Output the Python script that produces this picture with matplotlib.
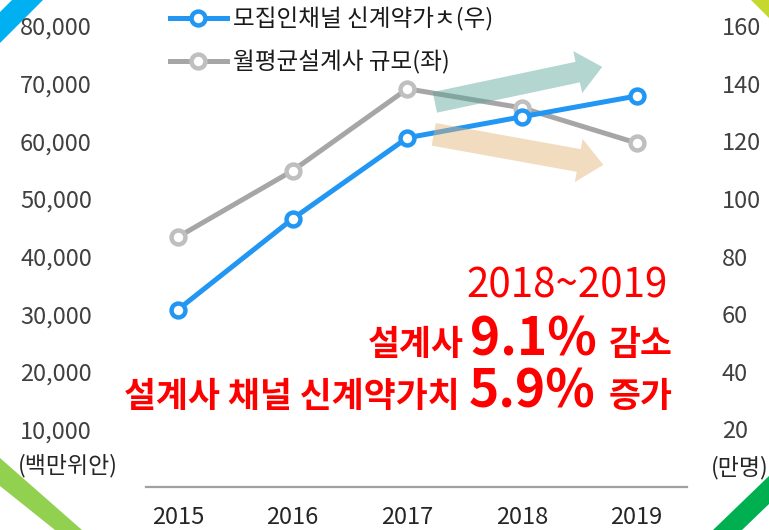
import numpy as np
import matplotlib
matplotlib.use("Agg")
from matplotlib import pyplot as plt
from matplotlib.patches import Polygon
from matplotlib.lines import Line2D

plt.rcParams['font.family'] = ['Noto Sans CJK KR', 'DejaVu Sans']

years = ["2015", "2016", "2017", "2018", "2019"]
planners = [43400, 54900, 69100, 65800, 59700]      # 월평균설계사 규모 (좌, 백만위안)
new_value = [61.6, 93.1, 121.2, 128.5, 135.7]       # 모집인채널 신계약가치 (우, 만명)
left_ticks = [10000, 20000, 30000, 40000, 50000, 60000, 70000, 80000]
right_ticks = [20, 40, 60, 80, 100, 120, 140, 160]

W, H = 769, 530
BLUE = "#2196f3"
GRAY = "#a6a6a6"
RED = "#ff0000"
TICK = "#404040"


def fx(px):
    return px / W


def fy(py):
    return 1 - py / H


fig = plt.figure(figsize=(W / 100, H / 100), dpi=100)
ax = fig.add_axes([fx(146), fy(487), fx(687) - fx(146), fy(26) - fy(487)])
ax2 = ax.twinx()

x = np.arange(len(years))
ax.plot(x, planners, color=GRAY, lw=3.6, marker="o", ms=10, mfc="white",
        mec="#bfbfbf", mew=3.2, zorder=3)
ax2.plot(x, new_value, color=BLUE, lw=3.6, marker="o", ms=10, mfc="white",
         mec=BLUE, mew=3.2, zorder=3)

ax.set_xlim(-0.28, 4.44)
ax.set_ylim(0, 80000)
ax2.set_ylim(0, 160)
ax.set_xticks(x)
ax.set_xticklabels(years)
ax.set_yticks(left_ticks)
ax.set_yticklabels([f"{v:,}" for v in left_ticks])
ax2.set_yticks(right_ticks)
ax2.set_yticklabels([str(v) for v in right_ticks])

for a in (ax, ax2):
    for s in ("top", "left", "right", "bottom"):
        a.spines[s].set_visible(False)
ax.spines["bottom"].set_visible(True)
ax.spines["bottom"].set_color("#a0a0a0")
ax.spines["bottom"].set_linewidth(1.6)

ax.tick_params(axis="x", length=0, pad=14, labelsize=17, labelcolor="#262626")
ax.tick_params(axis="y", length=0, pad=39, labelsize=17, labelcolor=TICK)
ax2.tick_params(axis="y", length=0, pad=25, labelsize=17, labelcolor=TICK)
for lab in ax.get_yticklabels():
    lab.set_horizontalalignment("right")

fig.text(fx(68), fy(466), "(백만위안)", ha="center", va="center",
         fontsize=16.5, color="#262626")
fig.text(fx(711), fy(468), "(만명)", ha="left", va="center",
         fontsize=16.5, color="#262626")

# legend
handles = [
    Line2D([], [], color=BLUE, lw=3.6, marker="o", ms=10, mfc="white",
           mec=BLUE, mew=3.2),
    Line2D([], [], color=GRAY, lw=3.6, marker="o", ms=10, mfc="white",
           mec="#bfbfbf", mew=3.2),
]
fig.legend(handles, ["모집인채널 신계약가ㅊ(우)", "월평균설계사 규모(좌)"],
           loc="upper left", bbox_to_anchor=(fx(170), fy(7)), frameon=False,
           fontsize=17, handlelength=2.4, handletextpad=0.25,
           labelspacing=0.8, borderpad=0, borderaxespad=0,
           labelcolor="#1a1a1a")


# trend arrows, anchored in data coords of the left axis
def arrow(tail, tip, shaft_w, head_w, head_len, color, alpha):
    t = ax.transData.transform(tail)
    p = ax.transData.transform(tip)
    d = (p - t) / np.linalg.norm(p - t)
    n = np.array([-d[1], d[0]])
    b = p - d * head_len
    pts = [t + n * shaft_w / 2, b + n * shaft_w / 2, b + n * head_w / 2, p,
           b - n * head_w / 2, b - n * shaft_w / 2, t - n * shaft_w / 2]
    poly = Polygon(pts, closed=True, transform=None, facecolor=color,
                   edgecolor="none", alpha=alpha, zorder=5)
    fig.add_artist(poly)


fig.canvas.draw()
arrow((2.24, 66750), (3.70, 72900), 21, 43, 25, "#59a499", 0.45)
arrow((2.23, 61200), (3.71, 55900), 23, 44, 25, "#e3b274", 0.45)

# red annotation
renderer = fig.canvas.get_renderer()


def text_row(pieces, right, base):
    # gap = space to the right of each piece
    xr = right
    for s, size, weight, gap in reversed(pieces):
        xr -= gap
        t = fig.text(fx(xr), fy(base), s, ha="right", va="baseline",
                     fontsize=size, fontweight=weight, color=RED)
        xr -= t.get_window_extent(renderer).width


text_row([("2018~2019", 29, "normal", 0)], 668, 297)
text_row([("설계사", 25, "bold", 6), ("9.1%", 37, "bold", 12),
          ("감소", 25, "bold", 0)], 673, 355)
text_row([("설계사 채널 신계약가치", 25, "bold", 8), ("5.9%", 37, "bold", 14),
          ("증가", 25, "bold", 0)], 673, 407)

# corner decorations
corners = [
    ([(0, 12), (12, 0), (43, 0), (0, 43)], "#00b0f0"),
    ([(751, 0), (769, 0), (769, 18)], "#c5d82e"),
    ([(0, 458), (82, 530), (55, 530), (0, 486)], "#92d050"),
    ([(713, 530), (769, 476), (769, 504), (742, 530)], "#00b050"),
]
for pts, c in corners:
    fig.add_artist(Polygon([(fx(a), fy(b)) for a, b in pts], closed=True,
                           transform=fig.transFigure, facecolor=c,
                           edgecolor="none", zorder=0))

fig.savefig("out.png", dpi=100)
